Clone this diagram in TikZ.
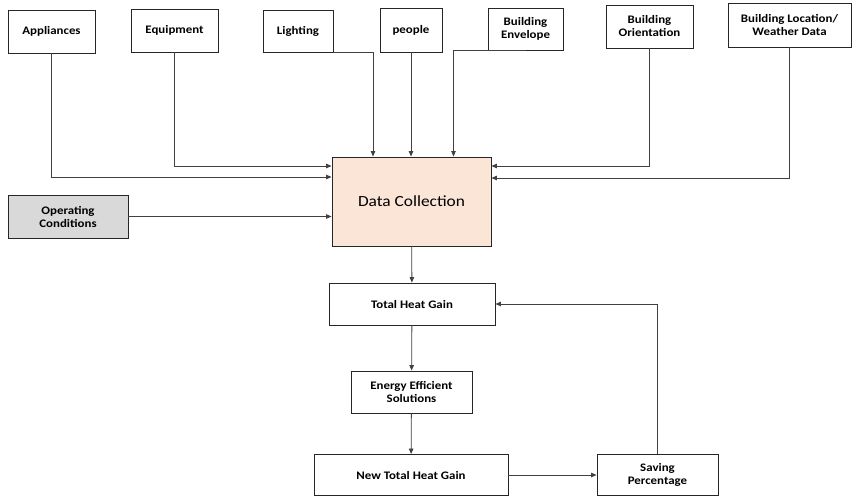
\documentclass[tikz,border=0pt]{standalone}
\usepackage{fontspec}
\setmainfont{Carlito}[FakeStretch=1.12]
\usetikzlibrary{arrows.meta,positioning}
\definecolor{dcpeach}{RGB}{251,229,214}
\definecolor{opgray} {RGB}{217,217,217}

\begin{document}
\begin{tikzpicture}[x=1pt, y=-1pt,
  blk/.style={rectangle, draw=black!85, line width=0.9pt,
              fill=#1, align=center, inner sep=2pt,
              font=\fontsize{11.5}{13}\selectfont\bfseries},
  blk/.default=white,
  arr/.style={-{Triangle[length=5.5pt,width=4.5pt]}, line width=0.8pt, black!75}
]
  \useasboundingbox (0,0) rectangle (856,496);

  % inputs along the top
  \node[blk, minimum width=87pt, minimum height=43pt] (app) at (51.5,31.5)
    {Appliances};
  \node[blk, minimum width=87pt, minimum height=43pt] (equ) at (174.5,30.5)
    {Equipment};
  \node[blk, minimum width=70pt, minimum height=42pt] (lig) at (298,31)
    {Lighting};
  \node[blk, minimum width=62pt, minimum height=44pt] (peo) at (411,30)
    {people};
  \node[blk, minimum width=75pt, minimum height=42pt] (env) at (525.5,29)
    {Building\\Envelope};
  \node[blk, minimum width=87pt, minimum height=43pt] (ori) at (649.5,26.5)
    {Building\\Orientation};
  \node[blk, minimum width=123pt, minimum height=44pt] (loc) at (789.5,25)
    {Building Location/\\Weather Data};

  \node[blk=opgray, minimum width=120pt, minimum height=43pt] (opc) at (68,216.5)
    {Operating\\Conditions};

  % main chain
  \node[blk=dcpeach, minimum width=159pt, minimum height=89pt,
        font=\fontsize{15.5}{18}\selectfont] (dc) at (411.5,201.5)
    {Data Collection};
  \node[blk, minimum width=166pt, minimum height=42pt] (thg) at (412,304)
    {Total Heat Gain};
  \node[blk, minimum width=121pt, minimum height=42pt] (ees) at (411.5,392)
    {Energy Efficient\\Solutions};
  \node[blk, minimum width=194pt, minimum height=41pt] (nthg) at (411,475)
    {New Total Heat Gain};
  \node[blk, minimum width=121pt, minimum height=41pt] (sav) at (657.5,475)
    {Saving\\Percentage};

  % connectors into Data Collection
  \draw[arr] (app.south) |- ([yshift=24.5pt]dc.west);
  \draw[arr] (equ.south) |- ([yshift=35.5pt]dc.west);
  \draw[arr] (opc.east) -- (opc.east -| dc.west);
  \draw[arr] (lig.south east) -| ([xshift=-38.5pt]dc.north);
  \draw[arr] (peo.south) -- (peo.south |- dc.north);
  \draw[arr] (env.south) -| ([xshift=42pt]dc.north);
  \draw[arr] (ori.south) |- ([yshift=35.5pt]dc.east);
  \draw[arr] (loc.south) |- ([yshift=23.5pt]dc.east);

  \foreach \from/\to in {dc/thg, thg/ees, ees/nthg}
    \draw[arr] (\from) -- (\to);
  \draw[arr] (nthg.east) -- (nthg.east -| sav.west);
  \draw[arr] (sav.north) |- (thg.east);
\end{tikzpicture}
\end{document}
